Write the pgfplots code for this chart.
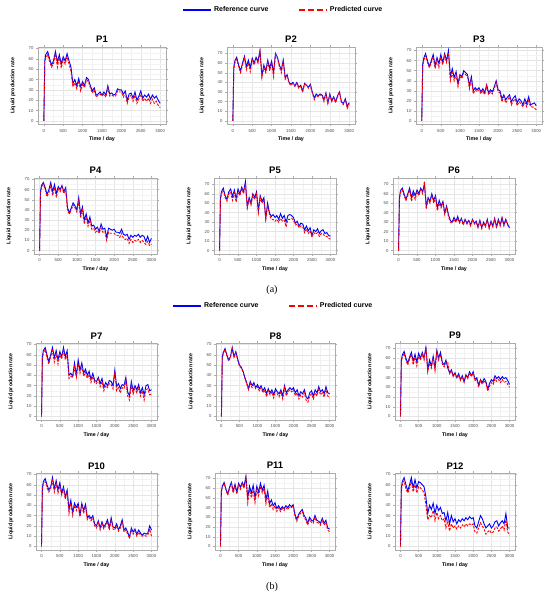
\documentclass[border=0pt]{standalone}
\usepackage{fontspec}
\setmainfont{Liberation Sans}
\newfontfamily\capfont{Liberation Serif}
\usepackage{pgfplots}
\usepackage{pgfplotstable}
\pgfplotsset{compat=1.18}

\pgfplotstableread[row sep=\\]{
t r p\\
0 0 0\\ 25 58 56\\ 50 64 61\\ 100 67 64\\ 150 60 57\\ 200 54 52\\ 250 58 55\\ 300 67 65\\ 350 57 52\\ 400 64 61\\ 450 55 51\\ 500 62 60\\ 550 58 55\\ 600 65 62\\ 650 58 55\\
700 52 48\\ 750 36 33\\ 800 40 37\\ 850 34 31\\ 900 41 39\\ 950 33 29\\ 1000 38 36\\ 1050 34 32\\ 1100 42 40\\ 1150 40 38\\ 1200 34 32\\ 1250 29 27\\ 1300 32 30\\ 1350 25 23\\ 1400 26 25\\ 1450 28 26\\ 1500 25 24\\ 1550 28 26\\ 1600 25 23\\ 1650 34 32\\ 1700 26 24\\ 1750 27 25\\ 1800 25 24\\ 1850 26 24\\ 1900 31 29\\ 1950 30 28\\ 2000 30 28\\ 2050 26 23\\ 2100 29 27\\ 2150 20 17\\ 2200 26 23\\ 2250 27 25\\ 2300 22 19\\ 2350 28 25\\ 2400 20 17\\ 2450 24 21\\ 2500 29 26\\ 2550 22 19\\ 2600 25 22\\ 2650 23 19\\ 2700 26 22\\ 2750 21 17\\ 2800 25 21\\ 2850 22 17\\ 2900 24 19\\ 2950 20 15\\ 3000 17 13\\
}\Pone
\pgfplotstableread[row sep=\\]{
t r p\\
0 0 0\\ 25 55 53\\ 50 62 60\\ 100 66 64\\ 150 58 56\\ 200 52 50\\ 250 60 58\\ 300 67 65\\ 350 56 53\\ 400 63 60\\ 450 55 51\\ 500 65 63\\ 550 60 58\\ 600 66 64\\ 650 62 60\\
700 73 72\\ 750 47 45\\ 800 58 55\\ 850 52 50\\ 900 63 61\\ 950 55 52\\ 1000 62 60\\ 1050 50 46\\ 1100 70 69\\ 1150 66 65\\ 1200 58 56\\ 1250 53 50\\ 1300 63 62\\ 1350 45 43\\ 1400 48 46\\ 1450 40 39\\ 1500 38 37\\ 1550 40 39\\ 1600 36 36\\ 1650 40 39\\ 1700 35 34\\ 1750 37 36\\ 1800 31 30\\ 1850 39 38\\ 1900 37 37\\ 1950 35 34\\ 2000 38 37\\ 2050 30 29\\ 2100 24 22\\ 2150 28 27\\ 2200 26 25\\ 2250 28 27\\ 2300 27 26\\ 2350 22 20\\ 2400 29 28\\ 2450 19 18\\ 2500 28 27\\ 2550 21 20\\ 2600 25 24\\ 2650 20 19\\ 2700 26 25\\ 2750 30 30\\ 2800 20 19\\ 2850 18 17\\ 2900 23 22\\ 2950 15 13\\ 3000 19 18\\
}\Ptwo
\pgfplotstableread[row sep=\\]{
t r p\\
0 0 0\\ 25 56 54\\ 50 62 60\\ 100 67 65\\ 150 60 58\\ 200 54 53\\ 250 60 58\\ 300 66 64\\ 350 55 52\\ 400 63 60\\ 450 57 53\\ 500 66 63\\ 550 58 56\\ 600 67 65\\ 650 60 58\\
700 70 68\\ 750 44 40\\ 800 52 48\\ 850 43 40\\ 900 49 46\\ 950 37 34\\ 1000 46 44\\ 1050 44 42\\ 1100 50 48\\ 1150 48 46\\ 1200 46 44\\ 1250 35 32\\ 1300 44 42\\ 1350 30 27\\ 1400 33 31\\ 1450 31 29\\ 1500 33 31\\ 1550 29 27\\ 1600 32 30\\ 1650 28 26\\ 1700 36 35\\ 1750 28 26\\ 1800 31 29\\ 1850 29 27\\ 1900 34 32\\ 1950 40 38\\ 2000 31 29\\ 2050 30 28\\ 2100 22 19\\ 2150 26 24\\ 2200 21 18\\ 2250 24 21\\ 2300 26 24\\ 2350 19 16\\ 2400 23 20\\ 2450 25 22\\ 2500 18 15\\ 2550 22 19\\ 2600 20 17\\ 2650 16 14\\ 2700 22 19\\ 2750 17 14\\ 2800 24 20\\ 2850 16 14\\ 2900 17 14\\ 2950 18 13\\ 3000 15 11\\
}\Pthree
\pgfplotstableread[row sep=\\]{
t r p\\
0 0 0\\ 25 58 56\\ 50 64 62\\ 100 67 65\\ 150 62 60\\ 200 55 53\\ 250 60 57\\ 300 67 64\\ 350 58 54\\ 400 65 62\\ 450 56 52\\ 500 63 61\\ 550 60 58\\ 600 64 62\\ 650 58 56\\
700 62 60\\ 750 42 39\\ 800 37 36\\ 850 42 40\\ 900 47 45\\ 950 44 42\\ 1000 40 38\\ 1050 52 49\\ 1100 36 32\\ 1150 43 40\\ 1200 30 26\\ 1250 36 33\\ 1300 27 24\\ 1350 33 30\\ 1400 24 21\\ 1450 25 22\\ 1500 21 18\\ 1550 23 20\\ 1600 19 17\\ 1650 26 22\\ 1700 21 18\\ 1750 22 19\\ 1800 13 10\\ 1850 22 18\\ 1900 21 17\\ 1950 20 17\\ 2000 21 17\\ 2050 18 15\\ 2100 18 15\\ 2150 17 13\\ 2200 21 17\\ 2250 16 12\\ 2300 15 11\\ 2350 16 12\\ 2400 11 7\\ 2450 15 11\\ 2500 13 8\\ 2550 15 10\\ 2600 14 9\\ 2650 16 11\\ 2700 13 8\\ 2750 15 10\\ 2800 14 8\\ 2850 9 6\\ 2900 14 9\\ 2950 8 5\\ 3000 12 6\\
}\Pfour
\pgfplotstableread[row sep=\\]{
t r p\\
0 0 0\\ 25 55 53\\ 50 62 60\\ 100 66 64\\ 150 58 56\\ 200 54 52\\ 250 62 60\\ 300 65 62\\ 350 57 53\\ 400 64 61\\ 450 55 51\\ 500 65 62\\ 550 60 58\\ 600 67 65\\ 650 62 60\\
700 73 71\\ 750 46 45\\ 800 56 54\\ 850 50 48\\ 900 60 58\\ 950 56 54\\ 1000 62 60\\ 1050 42 40\\ 1100 58 56\\ 1150 52 50\\ 1200 56 54\\ 1250 34 33\\ 1300 50 48\\ 1350 40 38\\ 1400 36 33\\ 1450 38 33\\ 1500 35 31\\ 1550 37 33\\ 1600 33 30\\ 1650 39 34\\ 1700 34 31\\ 1750 37 32\\ 1800 30 25\\ 1850 37 33\\ 1900 38 33\\ 1950 37 34\\ 2000 35 32\\ 2050 29 27\\ 2100 31 28\\ 2150 26 24\\ 2200 29 26\\ 2250 28 25\\ 2300 22 19\\ 2350 26 23\\ 2400 21 18\\ 2450 24 21\\ 2500 16 14\\ 2550 22 19\\ 2600 20 17\\ 2650 23 19\\ 2700 18 15\\ 2750 21 18\\ 2800 22 18\\ 2850 18 15\\ 2900 19 15\\ 2950 16 13\\ 3000 15 12\\
}\Pfive
\pgfplotstableread[row sep=\\]{
t r p\\
0 0 0\\ 25 56 54\\ 50 63 61\\ 100 66 64\\ 150 60 58\\ 200 54 53\\ 250 60 58\\ 300 66 64\\ 350 56 52\\ 400 63 60\\ 450 58 54\\ 500 64 62\\ 550 60 58\\ 600 66 64\\ 650 62 60\\
700 70 73\\ 750 47 44\\ 800 56 54\\ 850 52 50\\ 900 60 58\\ 950 53 50\\ 1000 58 56\\ 1050 45 42\\ 1100 53 50\\ 1150 47 45\\ 1200 52 50\\ 1250 40 38\\ 1300 47 45\\ 1350 38 36\\ 1400 32 30\\ 1450 30 29\\ 1500 35 33\\ 1550 31 30\\ 1600 36 34\\ 1650 30 29\\ 1700 34 33\\ 1750 28 27\\ 1800 33 32\\ 1850 29 28\\ 1900 32 31\\ 1950 27 26\\ 2000 33 32\\ 2050 29 28\\ 2100 31 30\\ 2150 25 24\\ 2200 32 31\\ 2250 24 23\\ 2300 30 29\\ 2350 26 25\\ 2400 33 32\\ 2450 24 23\\ 2500 31 30\\ 2550 26 25\\ 2600 34 33\\ 2650 25 24\\ 2700 33 32\\ 2750 27 26\\ 2800 35 34\\ 2850 27 26\\ 2900 33 32\\ 2950 28 27\\ 3000 24 24\\
}\Psix
\pgfplotstableread[row sep=\\]{
t r p\\
0 0 0\\ 25 58 56\\ 50 64 62\\ 100 67 65\\ 150 60 57\\ 200 53 51\\ 250 60 58\\ 300 67 64\\ 350 57 53\\ 400 64 61\\ 450 55 51\\ 500 63 60\\ 550 58 56\\ 600 67 64\\ 650 58 55\\
700 64 60\\ 750 40 37\\ 800 42 39\\ 850 39 38\\ 900 52 48\\ 950 40 38\\ 1000 55 51\\ 1050 45 42\\ 1100 52 49\\ 1150 42 39\\ 1200 46 43\\ 1250 40 37\\ 1300 44 41\\ 1350 36 33\\ 1400 42 39\\ 1450 35 33\\ 1500 34 32\\ 1550 38 36\\ 1600 32 29\\ 1650 37 34\\ 1700 28 25\\ 1750 33 30\\ 1800 30 28\\ 1850 35 32\\ 1900 34 31\\ 1950 30 27\\ 2000 45 43\\ 2050 29 25\\ 2100 32 28\\ 2150 27 23\\ 2200 31 28\\ 2250 30 27\\ 2300 38 35\\ 2350 24 20\\ 2400 20 16\\ 2450 34 31\\ 2500 25 22\\ 2550 30 27\\ 2600 26 23\\ 2650 31 28\\ 2700 23 20\\ 2750 28 25\\ 2800 21 16\\ 2850 30 26\\ 2900 31 27\\ 2950 25 21\\ 3000 26 22\\
}\Pseven
\pgfplotstableread[row sep=\\]{
t r p\\
0 0 0\\ 25 58 56\\ 50 62 61\\ 100 66 65\\ 150 60 59\\ 200 55 54\\ 250 58 57\\ 300 67 66\\ 350 58 57\\ 400 63 62\\ 450 56 55\\ 500 50 49\\ 550 48 47\\ 600 44 43\\ 650 38 37\\
700 33 32\\ 750 27 26\\ 800 34 32\\ 850 30 28\\ 900 33 31\\ 950 28 27\\ 1000 31 29\\ 1050 27 25\\ 1100 30 28\\ 1150 25 23\\ 1200 28 26\\ 1250 22 19\\ 1300 27 25\\ 1350 23 21\\ 1400 26 24\\ 1450 21 18\\ 1500 27 25\\ 1550 24 22\\ 1600 22 19\\ 1650 26 24\\ 1700 20 17\\ 1750 30 28\\ 1800 23 20\\ 1850 26 24\\ 1900 28 26\\ 1950 26 24\\ 2000 28 26\\ 2050 23 20\\ 2100 26 23\\ 2150 20 17\\ 2200 24 21\\ 2250 22 19\\ 2300 26 23\\ 2350 19 16\\ 2400 17 14\\ 2450 23 20\\ 2500 25 22\\ 2550 20 17\\ 2600 26 23\\ 2650 23 20\\ 2700 29 26\\ 2750 24 21\\ 2800 26 23\\ 2850 22 19\\ 2900 29 26\\ 2950 23 20\\ 3000 22 18\\
}\Peight
\pgfplotstableread[row sep=\\]{
t r p\\
0 0 0\\ 25 58 56\\ 50 63 61\\ 100 67 65\\ 150 60 58\\ 200 55 53\\ 250 61 59\\ 300 66 64\\ 350 57 53\\ 400 64 61\\ 450 56 52\\ 500 65 62\\ 550 60 58\\ 600 66 64\\ 650 60 58\\
700 71 72\\ 750 48 46\\ 800 58 55\\ 850 52 50\\ 900 62 60\\ 950 50 47\\ 1000 68 66\\ 1050 60 58\\ 1100 66 64\\ 1150 56 54\\ 1200 53 51\\ 1250 58 55\\ 1300 50 56\\ 1350 45 44\\ 1400 48 47\\ 1450 42 41\\ 1500 45 44\\ 1550 40 39\\ 1600 44 43\\ 1650 38 37\\ 1700 42 41\\ 1750 36 35\\ 1800 43 42\\ 1850 40 39\\ 1900 46 45\\ 1950 42 41\\ 2000 46 45\\ 2050 38 37\\ 2100 40 38\\ 2150 32 30\\ 2200 38 37\\ 2250 35 33\\ 2300 39 37\\ 2350 36 34\\ 2400 28 26\\ 2450 34 31\\ 2500 38 35\\ 2550 36 33\\ 2600 42 39\\ 2650 39 36\\ 2700 41 38\\ 2750 38 35\\ 2800 41 38\\ 2850 39 35\\ 2900 40 36\\ 2950 37 33\\ 3000 33 30\\
}\Pnine
\pgfplotstableread[row sep=\\]{
t r p\\
0 0 0\\ 25 57 55\\ 50 63 61\\ 100 66 63\\ 150 60 57\\ 200 55 53\\ 250 58 56\\ 300 67 64\\ 350 56 53\\ 400 64 61\\ 450 55 52\\ 500 62 59\\ 550 52 50\\ 600 58 56\\ 650 48 46\\
700 55 52\\ 750 36 32\\ 800 45 42\\ 850 33 30\\ 900 42 40\\ 950 38 35\\ 1000 42 40\\ 1050 31 29\\ 1100 42 40\\ 1150 35 32\\ 1200 41 39\\ 1250 28 26\\ 1300 30 28\\ 1350 27 25\\ 1400 30 28\\ 1450 22 20\\ 1500 20 18\\ 1550 25 23\\ 1600 18 16\\ 1650 24 22\\ 1700 19 17\\ 1750 22 20\\ 1800 26 24\\ 1850 18 16\\ 1900 28 26\\ 1950 19 17\\ 2000 18 16\\ 2050 22 20\\ 2100 16 15\\ 2150 20 18\\ 2200 26 24\\ 2250 16 14\\ 2300 18 16\\ 2350 14 12\\ 2400 9 8\\ 2450 18 16\\ 2500 14 12\\ 2550 17 15\\ 2600 12 10\\ 2650 16 14\\ 2700 13 11\\ 2750 11 10\\ 2800 13 11\\ 2850 12 10\\ 2900 13 11\\ 2950 20 17\\ 3000 16 10\\
}\Pten
\pgfplotstableread[row sep=\\]{
t r p\\
0 0 0\\ 25 56 55\\ 50 62 61\\ 100 66 65\\ 150 59 58\\ 200 54 53\\ 250 61 60\\ 300 66 65\\ 350 57 55\\ 400 64 62\\ 450 56 54\\ 500 65 63\\ 550 61 59\\ 600 66 64\\ 650 62 60\\
700 72 71\\ 750 50 45\\ 800 62 58\\ 850 55 50\\ 900 63 58\\ 950 50 45\\ 1000 62 58\\ 1050 56 52\\ 1100 65 62\\ 1150 58 55\\ 1200 63 60\\ 1250 48 44\\ 1300 57 53\\ 1350 44 40\\ 1400 48 44\\ 1450 42 38\\ 1500 45 42\\ 1550 39 36\\ 1600 42 40\\ 1650 38 36\\ 1700 41 39\\ 1750 39 37\\ 1800 42 40\\ 1850 40 38\\ 1900 43 41\\ 1950 41 40\\ 2000 43 42\\ 2050 33 31\\ 2100 28 26\\ 2150 33 31\\ 2200 36 34\\ 2250 38 36\\ 2300 32 30\\ 2350 29 27\\ 2400 24 22\\ 2450 30 28\\ 2500 27 25\\ 2550 26 24\\ 2600 32 30\\ 2650 27 25\\ 2700 26 24\\ 2750 24 22\\ 2800 29 27\\ 2850 24 22\\ 2900 27 25\\ 2950 19 17\\ 3000 18 15\\
}\Peleven
\pgfplotstableread[row sep=\\]{
t r p\\
0 0 0\\ 25 57 55\\ 50 63 60\\ 100 67 64\\ 150 60 56\\ 200 54 52\\ 250 60 56\\ 300 67 63\\ 350 57 53\\ 400 65 60\\ 450 57 52\\ 500 63 58\\ 550 62 57\\ 600 60 55\\ 650 58 52\\
700 48 40\\ 750 32 26\\ 800 40 30\\ 850 36 28\\ 900 42 35\\ 950 32 25\\ 1000 40 33\\ 1050 35 27\\ 1100 38 30\\ 1150 32 25\\ 1200 33 27\\ 1250 25 18\\ 1300 33 25\\ 1350 22 15\\ 1400 30 22\\ 1450 24 18\\ 1500 27 20\\ 1550 22 17\\ 1600 26 20\\ 1650 24 18\\ 1700 27 21\\ 1750 25 19\\ 1800 28 22\\ 1850 26 20\\ 1900 29 22\\ 1950 27 21\\ 2000 28 22\\ 2050 20 14\\ 2100 18 13\\ 2150 24 18\\ 2200 30 23\\ 2250 27 20\\ 2300 22 17\\ 2350 18 12\\ 2400 20 14\\ 2450 22 16\\ 2500 18 13\\ 2550 20 14\\ 2600 24 18\\ 2650 25 19\\ 2700 20 15\\ 2750 23 17\\ 2800 25 20\\ 2850 22 16\\ 2900 32 26\\ 2950 18 14\\ 3000 18 11\\
}\Ptwelve

\pgfplotsset{
  well/.style={
    scale only axis,
    xmin=-150, xmax=3150,
    xtick={0,500,...,3000},
    ytick={0,10,...,70},
    minor x tick num=1, minor y tick num=1,
    grid=both,
    major grid style={line width=0.4pt, gray!20},
    minor grid style={line width=0.3pt, gray!10},
    axis line style={gray!65, line width=0.8pt},
    tick align=outside,
    major tick length=1.6pt,
    minor tick length=0pt,
    tick style={gray!65, line width=0.4pt},
    ticklabel style={font=\fontsize{4.3}{5}\selectfont, text=black!70},
    xticklabel style={yshift=0.6pt},
    yticklabel style={xshift=0.6pt},
    /pgf/number format/assume math mode=true,
    /pgf/number format/1000 sep={},
    scaled ticks=false,
    title style={font=\fontsize{9.5}{11}\selectfont\bfseries, at={(axis description cs:0.5,1)}, anchor=base, yshift=-2pt},
    xlabel={Time / day}, ylabel={Liquid production rate},
    label style={font=\fontsize{5.3}{6}\selectfont\bfseries},
    xlabel style={at={([yshift=-15pt]axis description cs:0.5,0)}, anchor=center},
    ylabel style={at={([xshift=-25pt]axis description cs:0,0.5)}, anchor=center},
  },
  refl/.style={blue, line width=0.9pt},
  predl/.style={red, line width=0.9pt, dash pattern=on 2.4pt off 1.4pt},
  lgd/.style={legend style={at={(axis description cs:#1)}, anchor=west, draw=none, fill=none,
     legend columns=2, font=\fontsize{7}{8}\selectfont\bfseries,
     /tikz/every even column/.append style={column sep=28pt}}},
}

\newcommand{\curves}[1]{%
  \addplot[refl, forget plot] table[x=t, y=r] {#1};
  \addplot[predl, forget plot] table[x=t, y=p] {#1};
}
\newcommand{\lgdentries}{%
  \addlegendimage{legend image code/.code={\draw[blue, line width=1.3pt] (0pt,0pt) -- (28pt,0pt);}}
  \addlegendentry{Reference curve}
  \addlegendimage{legend image code/.code={\draw[red, line width=1.3pt, dash pattern=on 6pt off 3pt] (0pt,0pt) -- (28pt,0pt);}}
  \addlegendentry{Predicted curve}
}

\begin{document}
\begin{tikzpicture}
\useasboundingbox (0,0) rectangle (550pt,597pt);

% ---- group (a)
\begin{axis}[well, at={(38pt,472.5pt)}, anchor=south west, width=128pt, height=77.5pt, ymin=-3.4, ymax=71.4, title={P1}]
\curves{\Pone}
\end{axis}
\begin{axis}[well, at={(227pt,472.5pt)}, anchor=south west, width=128pt, height=77.5pt, ymin=-3.65, ymax=76.65, title={P2}]
\curves{\Ptwo}
\end{axis}
\begin{axis}[well, at={(416pt,472.5pt)}, anchor=south west, width=126pt, height=77.5pt, ymin=-3.5, ymax=73.5, title={P3}]
\curves{\Pthree}
\end{axis}
\begin{axis}[well, at={(34pt,343pt)}, anchor=south west, width=123pt, height=76pt, ymin=-3.4, ymax=71.4, title={P4}]
\curves{\Pfour}
\end{axis}
\begin{axis}[well, at={(214pt,343pt)}, anchor=south west, width=122pt, height=76pt, ymin=-3.65, ymax=76.65, title={P5}, lgd={-0.282,3.21}]
\lgdentries
\curves{\Pfive}
\end{axis}
\begin{axis}[well, at={(393pt,343pt)}, anchor=south west, width=122pt, height=76pt, ymin=-3.65, ymax=76.65, title={P6}]
\curves{\Psix}
\end{axis}
\node[font=\capfont\fontsize{10}{12}\selectfont] at (272pt,307pt) {(a)};

% ---- group (b)
\begin{axis}[well, at={(36pt,177pt)}, anchor=south west, width=121pt, height=77pt, ymin=-3.4, ymax=71.4, title={P7}]
\curves{\Pseven}
\end{axis}
\begin{axis}[well, at={(216pt,177pt)}, anchor=south west, width=119pt, height=77pt, ymin=-3.4, ymax=71.4, title={P8}, lgd={-0.39,1.48}]
\lgdentries
\curves{\Peight}
\end{axis}
\begin{axis}[well, at={(395pt,177pt)}, anchor=south west, width=120pt, height=77pt, ymin=-3.6, ymax=75.6, title={P9}]
\curves{\Pnine}
\end{axis}
\begin{axis}[well, at={(36pt,47pt)}, anchor=south west, width=121pt, height=77pt, ymin=-3.4, ymax=71.4, title={P10}]
\curves{\Pten}
\end{axis}
\begin{axis}[well, at={(215pt,47pt)}, anchor=south west, width=120pt, height=77pt, ymin=-3.6, ymax=75.6, title={P11}]
\curves{\Peleven}
\end{axis}
\begin{axis}[well, at={(395pt,47pt)}, anchor=south west, width=120pt, height=77pt, ymin=-3.4, ymax=71.4, title={P12}]
\curves{\Ptwelve}
\end{axis}
\node[font=\capfont\fontsize{10}{12}\selectfont] at (272pt,10pt) {(b)};
\end{tikzpicture}
\end{document}
